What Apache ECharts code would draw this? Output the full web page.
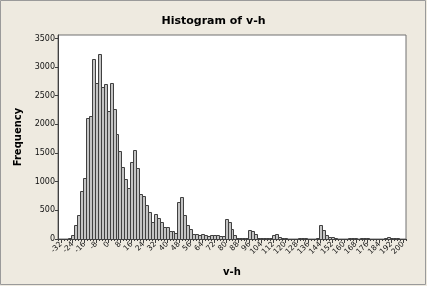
<!DOCTYPE html>
<html>
<head>
<meta charset="utf-8">
<script src="https://cdn.jsdelivr.net/npm/echarts@6/dist/echarts.min.js"></script>
<style>
html,body{margin:0;padding:0;background:#EEEAE0;}
#chart{width:427px;height:286px;}
</style>
</head>
<body>
<div id="chart"></div>
<script>
var binMids = [-30,-28,-26,-24,-22,-20,-18,-16,-14,-12,-10,-8,-6,-4,-2,0,2,4,6,8,10,12,14,16,18,20,22,24,26,28,30,32,34,36,38,40,42,44,46,48,50,52,54,56,58,60,62,64,66,68,70,72,74,76,78,80,82,84,86,88,90,92,94,96,98,100,102,104,106,108,110,112,114,116,118,120,122,124,126,128,130,132,134,136,138,140,142,144,146,148,150,152,154,156,158,160,162,164,166,168,170,172,174,176,178,180,182,184,186,188,190,192,194,196,198];
var frequencies = [3,8,20,76,245,420,840,1070,2120,2145,3135,2715,3220,2655,2705,2230,2730,2260,1840,1530,1255,1040,895,1345,1550,1240,790,750,600,470,305,435,370,300,205,205,145,145,105,637,736,426,245,170,88,88,76,82,76,52,70,70,64,52,52,350,305,175,70,25,20,20,25,158,140,88,25,20,15,15,25,70,93,35,20,10,8,5,5,8,12,15,10,5,5,8,10,250,164,76,35,30,10,8,5,5,8,15,20,15,8,10,20,18,8,5,5,8,5,10,30,20,15,10,5];
var binWidth = 2;
var xTickLabels = [-32,-24,-16,-8,0,8,16,24,32,40,48,56,64,72,80,88,96,104,112,120,128,136,144,152,160,168,176,184,192,200];
var yTickLabels = [0,500,1000,1500,2000,2500,3000,3500];

var chart = echarts.init(document.getElementById('chart'), null, {renderer:'canvas'});
var data = binMids.map(function(m,i){return [m, frequencies[i]];});
var F = 'DejaVu Sans';
chart.setOption({
  backgroundColor:'#EEEAE0',
  animation:false,
  title:{text:'Histogram of v-h', left:'center', top:11,
    textStyle:{fontFamily:F, fontSize:11, fontWeight:'bold', color:'#000'}},
  grid:{left:58, right:21, top:35, bottom:47, show:true, backgroundColor:'#fff', borderColor:'#707070', borderWidth:1},
  xAxis:[{
    type:'value', min:-34, max:202,
    name:'v-h', nameLocation:'middle', nameGap:28,
    nameTextStyle:{fontFamily:F, fontSize:10, fontWeight:'bold', color:'#000'},
    axisLine:{show:true, onZero:false, lineStyle:{color:'#404040'}},
    splitLine:{show:false},
    axisTick:{show:true, length:4, customValues:xTickLabels, lineStyle:{color:'#404040'}},
    axisLabel:{customValues:xTickLabels, rotate:45, fontFamily:F, fontSize:7.5, color:'#111', margin:4,
      formatter:function(v){return String(v);}}
  },{
    type:'value', min:-34, max:202, interval:2, position:'bottom',
    axisLine:{show:false, onZero:false}, splitLine:{show:false},
    axisTick:{show:true, length:2, lineStyle:{color:'#404040'}},
    axisLabel:{show:false}
  }],
  yAxis:{
    type:'value', min:0, max:3560,
    name:'Frequency', nameLocation:'middle', nameGap:34, nameRotate:90,
    nameTextStyle:{fontFamily:F, fontSize:10, fontWeight:'bold', color:'#000'},
    axisLine:{show:true, onZero:false, lineStyle:{color:'#404040'}},
    splitLine:{show:false},
    axisTick:{show:true, length:3, customValues:yTickLabels, lineStyle:{color:'#404040'}},
    axisLabel:{customValues:yTickLabels, fontFamily:F, fontSize:8, color:'#111', margin:3,
      formatter:function(v){return String(v);}}
  },
  graphic:[{type:'rect', shape:{x:0.5,y:0.5,width:425,height:284}, style:{fill:'none', stroke:'#9a9a9a', lineWidth:1}, silent:true}],
  series:[{
    type:'custom',
    xAxisIndex:0,
    data:data,
    renderItem:function(params, api){
      var m = api.value(0), f = api.value(1);
      var p0 = api.coord([m - binWidth/2, f]);
      var p1 = api.coord([m + binWidth/2, 0]);
      var x0 = Math.round(p0[0]) + 0.5, x1 = Math.round(p1[0]) + 0.5;
      var y0 = Math.round(p0[1]) + 0.5, y1 = Math.round(p1[1]) + 0.5;
      return {type:'rect', shape:{x:x0, y:y0, width:x1-x0, height:y1-y0},
        style:{fill:'#C4C4C4', stroke:'#404040', lineWidth:1}};
    }
  }]
});
</script>
</body>
</html>
